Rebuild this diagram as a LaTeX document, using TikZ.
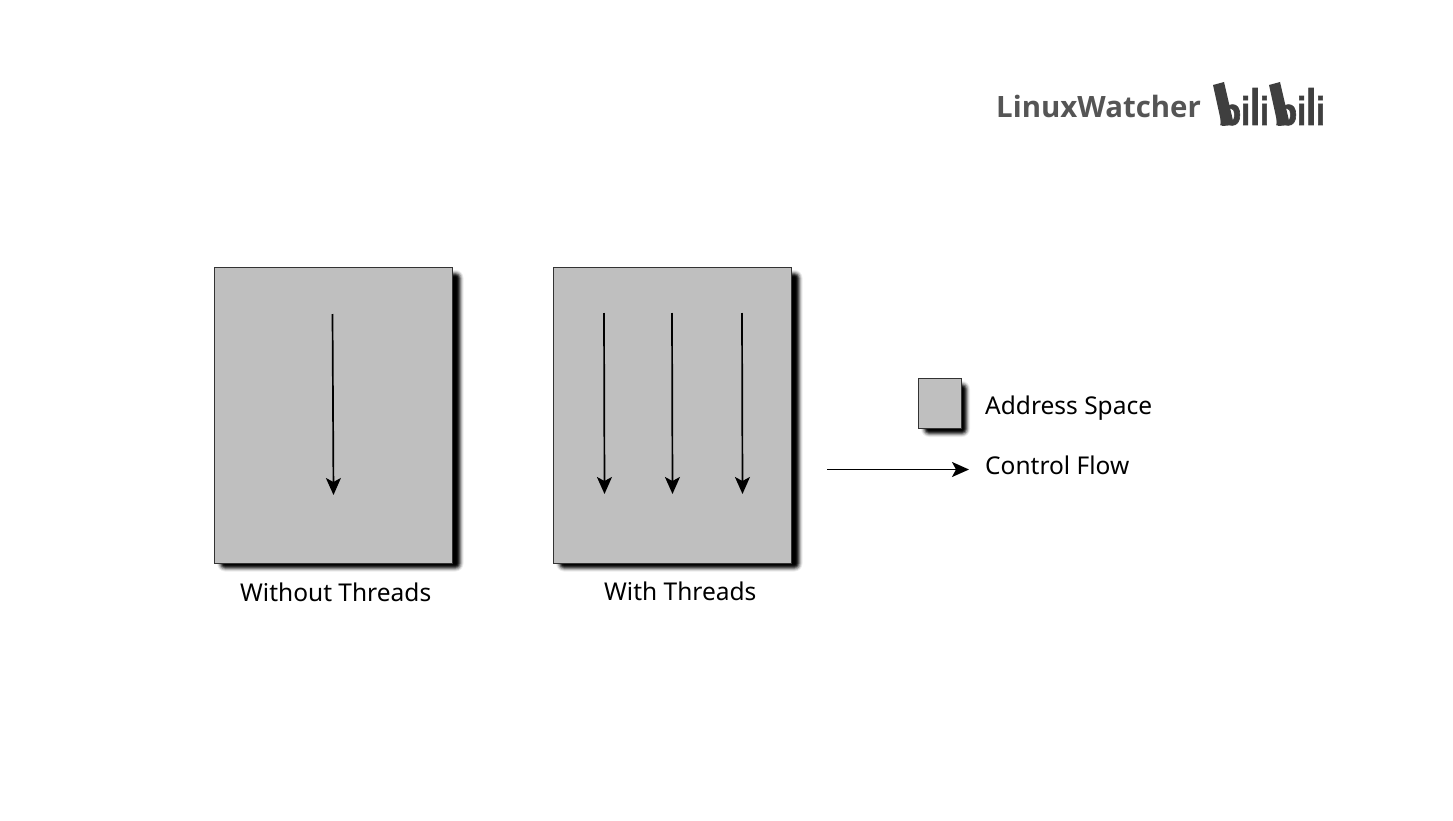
\documentclass[tikz,border=0pt]{standalone}
\usepackage{fontspec}
\usepackage{graphicx}
\setmainfont{Noto Sans}
\newfontfamily\logofont{Open Sans}
\newfontfamily\bilifont{Liberation Sans}[BoldFeatures={FakeBold=1.5}]
\definecolor{boxgray}{HTML}{BFBFBF}
\definecolor{logogray}{HTML}{555555}
\definecolor{biligray}{HTML}{3F3F3F}
\usetikzlibrary{arrows.meta}
\tikzset{
  x=1pt,y=-1pt,
  box/.style={draw=black!80,line width=0.9pt,fill=boxgray,inner sep=0pt,minimum width=#1},
  flow/.style={draw=black,line width=1.7pt,-{Stealth[length=17pt,width=15pt,inset=4pt]}},
  lab/.style={font=\fontsize{24.5}{28}\selectfont,text=black,inner sep=0pt,anchor=base west},
  logotxt/.style={font=\logofont\bfseries\fontsize{29.4}{32}\selectfont,text=logogray,inner sep=0pt,anchor=base west},
  bigb/.style={font=\bilifont\bfseries\fontsize{38}{38}\selectfont,text=biligray,inner sep=0pt,anchor=base west},
  ili/.style={font=\bilifont\bfseries\fontsize{40}{40}\selectfont,text=biligray,inner sep=0pt,anchor=base west},
}
\newcommand{\softshadow}[4]{%
  \foreach \g/\o in {4/0.07,3/0.12,2/0.2,1/0.3,0/0.4,-1/0.55,-2/0.7,-3/1}{
    \pgfmathsetmacro{\rc}{max(\g+4,0.1)}
    \fill[black,opacity=\o,rounded corners=\rc pt] (#1-\g,#2-\g) rectangle (#3+\g,#4+\g);
  }%
}
\newcommand{\iliword}{\scalebox{0.8}[1]{i}\scalebox{0.7}[1]{\fontsize{51}{51}\selectfont l}\scalebox{0.8}[1]{i}}
\begin{document}
\begin{tikzpicture}
\useasboundingbox (0,0) rectangle (1453,821);
\fill[white] (0,0) rectangle (1453,821);
% shadows
\softshadow{221}{274}{459.5}{567.5}
\softshadow{560}{274}{798.5}{567.5}
\softshadow{925}{385}{966}{433}
% boxes
\node[box=238pt,minimum height=296pt] (without) at (333,415) {};
\node[box=238pt,minimum height=296pt] (with) at (672.5,415) {};
\node[box=43pt,minimum height=50pt] (legendbox) at (939.5,403) {};
% coordinates
\coordinate (a1s) at (332.5,314); \coordinate (a1e) at (333.5,495);
\coordinate (b1s) at (604,313); \coordinate (b1e) at (604.5,494);
\coordinate (b2s) at (672,313); \coordinate (b2e) at (672.5,494);
\coordinate (b3s) at (742,313); \coordinate (b3e) at (742.5,494);
\coordinate (cs) at (827,469.5); \coordinate (ce) at (969,469.5);
\draw[flow] (a1s) -- (a1e);
\draw[flow] (b1s) -- (b1e);
\draw[flow] (b2s) -- (b2e);
\draw[flow] (b3s) -- (b3e);
\draw[flow] (cs) -- (ce);
% labels
\node[lab] (t1) at (240,601) {Without Threads};
\node[lab] (t2) at (604,600) {With Threads};
\node[lab] (t3) at (985,414) {Address Space};
\node[lab] (t4) at (985,474) {Control Flow};
\node[logotxt] (logo) at (996,118) {LinuxWatcher};
% bilibili logo
\fill[biligray] (1213,85) -- (1224,82) -- (1234,125) -- (1222,126) -- cycle;
\fill[biligray] (1269,85) -- (1280,82) -- (1290,125) -- (1278,126) -- cycle;
\node[bigb] (b1) at (1218,125) {b};
\node[ili] (i1) at (1241,125) {\iliword};
\node[bigb] (b2) at (1274,125) {b};
\node[ili] (i2) at (1297,125) {\iliword};
\end{tikzpicture}
\end{document}
